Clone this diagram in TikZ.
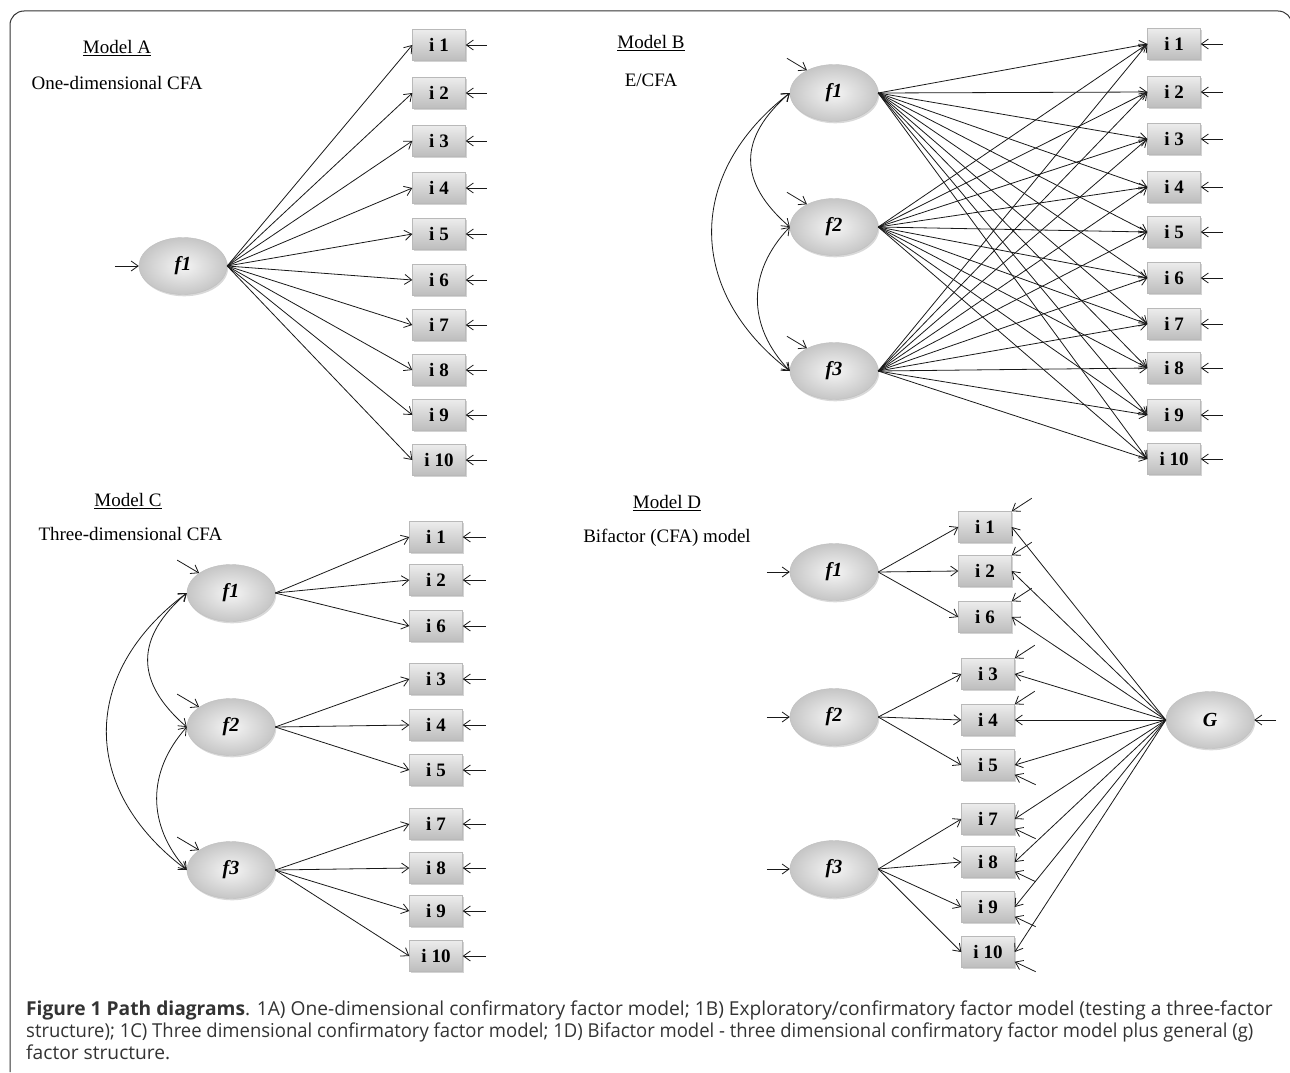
\documentclass[tikz,border=0pt]{standalone}
\usepackage{graphicx}
\usepackage{fontspec}
\setmainfont{Liberation Serif}
\newfontfamily\capfont{Open Sans}
\usetikzlibrary{arrows.meta,calc,shapes.geometric,shadows}

\begin{document}
\begin{tikzpicture}[x=1pt,y=-1pt,
    every node/.style={font=\fontsize{19}{22}\selectfont},
    itembox/.style={draw=gray!55, thin, top color=gray!15, bottom color=gray!52,
        minimum width=53pt, minimum height=31pt, inner sep=0pt,
        font=\fontsize{19}{22}\selectfont\bfseries,
        drop shadow={shadow xshift=1.2pt,shadow yshift=-1.8pt,opacity=.35}},
    latent/.style={ellipse, draw=gray!50, thin, inner color=gray!8, outer color=gray!45,
        minimum width=88pt, minimum height=57pt, inner sep=0pt,
        font=\fontsize{20}{22}\selectfont\bfseries\itshape,
        drop shadow={shadow xshift=1.2pt,shadow yshift=-1.8pt,opacity=.3}},
    load/.style={line width=.8pt, black!90, -{Straight Barb[length=7pt,width=10pt]}},
    cov/.style={line width=.8pt, black!90, {Straight Barb[length=7pt,width=10pt]}-{Straight Barb[length=7pt,width=10pt]}},
  ]
\useasboundingbox (0,0) rectangle (1290,1073);
\draw[black!80, line width=1pt, rounded corners=14pt] (10,1072) -- (10,11) -- (1292,11) -- (1292,60);

% Model A
\node (atitle) at (117,48) {\underline{Model A}};
\node[anchor=west] (asub) at (28,83) {One-dimensional CFA};
\node[latent] (af1) at (183,266) {f1};
\coordinate (ae0) at ($(af1.west)+(-24,0)$);
\draw[load] (ae0) -- (af1.west);
\foreach \i/\y in {1/45,2/93,3/141,4/188,5/234,6/280,7/325,8/370,9/415,10/460} {
  \node[itembox] (a\i) at (439,\y) {i \i};
  \coordinate (ae\i) at ($(a\i.east)+(21,0)$);
  \draw[load] (af1.east) -- (a\i.west);
  \draw[load] (ae\i) -- (a\i.east);
}

% Model B
\node (btitle) at (651,43) {\underline{Model B}};
\node (bsub) at (651,80) {E/CFA};
\foreach \f/\y in {1/93,2/227,3/371} {
  \node[latent] (bf\f) at (834,\y) {f\f};
  \coordinate (be\f) at ($(bf\f.140)+(-20,-12)$);
  \draw[load] (be\f) -- (bf\f.140);
}
\draw[cov] (bf1.west) .. controls +(-52,45) and +(-52,-45) .. (bf2.west);
\draw[cov] (bf2.west) .. controls +(-43,45) and +(-43,-45) .. (bf3.west);
\draw[cov] (bf1.west) .. controls +(-104,80) and +(-104,-80) .. (bf3.west);
\foreach \i/\y in {1/44,2/92,3/139,4/187,5/232,6/278,7/324,8/368,9/415,10/459} {
  \node[itembox] (b\i) at (1174,\y) {i \i};
  \coordinate (bx\i) at ($(b\i.east)+(22,0)$);
  \draw[load] (bx\i) -- (b\i.east);
  \foreach \f in {1,2,3}
    \draw[load] (bf\f.east) -- (b\i.west);
}

% Model C
\node (ctitle) at (128,501) {\underline{Model C}};
\node[anchor=west] (csub) at (35,534) {Three-dimensional CFA};
\foreach \f/\y in {1/593,2/727,3/870} {
  \node[latent] (cf\f) at (231,\y) {f\f};
  \coordinate (ce\f) at ($(cf\f.148)+(-22,-13)$);
  \draw[load] (ce\f) -- (cf\f.148);
}
\draw[cov] (cf1.west) .. controls +(-52,45) and +(-52,-45) .. (cf2.west);
\draw[cov] (cf2.west) .. controls +(-40,45) and +(-40,-45) .. (cf3.west);
\draw[cov] (cf1.west) .. controls +(-107,80) and +(-107,-80) .. (cf3.west);
\foreach \i/\y/\f in {1/537/1,2/580/1,6/626/1,3/679/2,4/725/2,5/770/2,7/824/3,8/868/3,9/911/3,10/956/3} {
  \node[itembox] (c\i) at (436,\y) {i \i};
  \coordinate (cx\i) at ($(c\i.east)+(23,0)$);
  \draw[load] (cx\i) -- (c\i.east);
  \draw[load] (cf\f.east) -- (c\i.west);
}

% Model D
\node (dtitle) at (667,503) {\underline{Model D}};
\node (dsub) at (667,538) {Bifactor (CFA) model};
\foreach \f/\y in {1/572,2/717,3/869} {
  \node[latent] (df\f) at (834,\y) {f\f};
  \coordinate (de\f) at ($(df\f.west)+(-23,0)$);
  \draw[load] (de\f) -- (df\f.west);
}
\node[latent] (dg) at (1210,720) {G};
\coordinate (dgx) at ($(dg.east)+(22,0)$);
\draw[load] (dgx) -- (dg.east);
\foreach \i/\x/\y/\f in {1/985/527/1,2/985/571/1,6/985/617/1,3/988/674/2,4/988/720/2,5/988/765/2,7/988/819/3,8/988/862/3,9/988/907/3,10/988/952/3} {
  \node[itembox] (d\i) at (\x,\y) {i \i};
  \draw[load] (df\f.east) -- (d\i.west);
  \draw[load] (dg.west) -- (d\i.east);
}
\foreach \i in {1,2,6,3,4} {
  \coordinate (dx\i) at ($(d\i.north east)+(20,-13)$);
  \draw[load] (dx\i) -- (d\i.north east);
}
\foreach \i in {5,7,8,9,10} {
  \coordinate (dx\i) at ($(d\i.-20)+(21,10)$);
  \draw[load] (dx\i) -- (d\i.-20);
}

% caption
\node[anchor=base west, align=left, inner sep=0pt, text=black!80,
      font=\capfont\fontsize{19.2}{22}\selectfont] (cap) at (26,1059)
  {\textbf{Figure 1 Path diagrams}. 1A) One-dimensional confirmatory factor model; 1B) Exploratory/confirmatory factor model (testing a three-factor\\
   \scalebox{0.962}[1]{structure); 1C) Three dimensional confirmatory factor model; 1D) Bifactor model - three dimensional confirmatory factor model plus general (g)}\\
   factor structure.};
\end{tikzpicture}
\end{document}
